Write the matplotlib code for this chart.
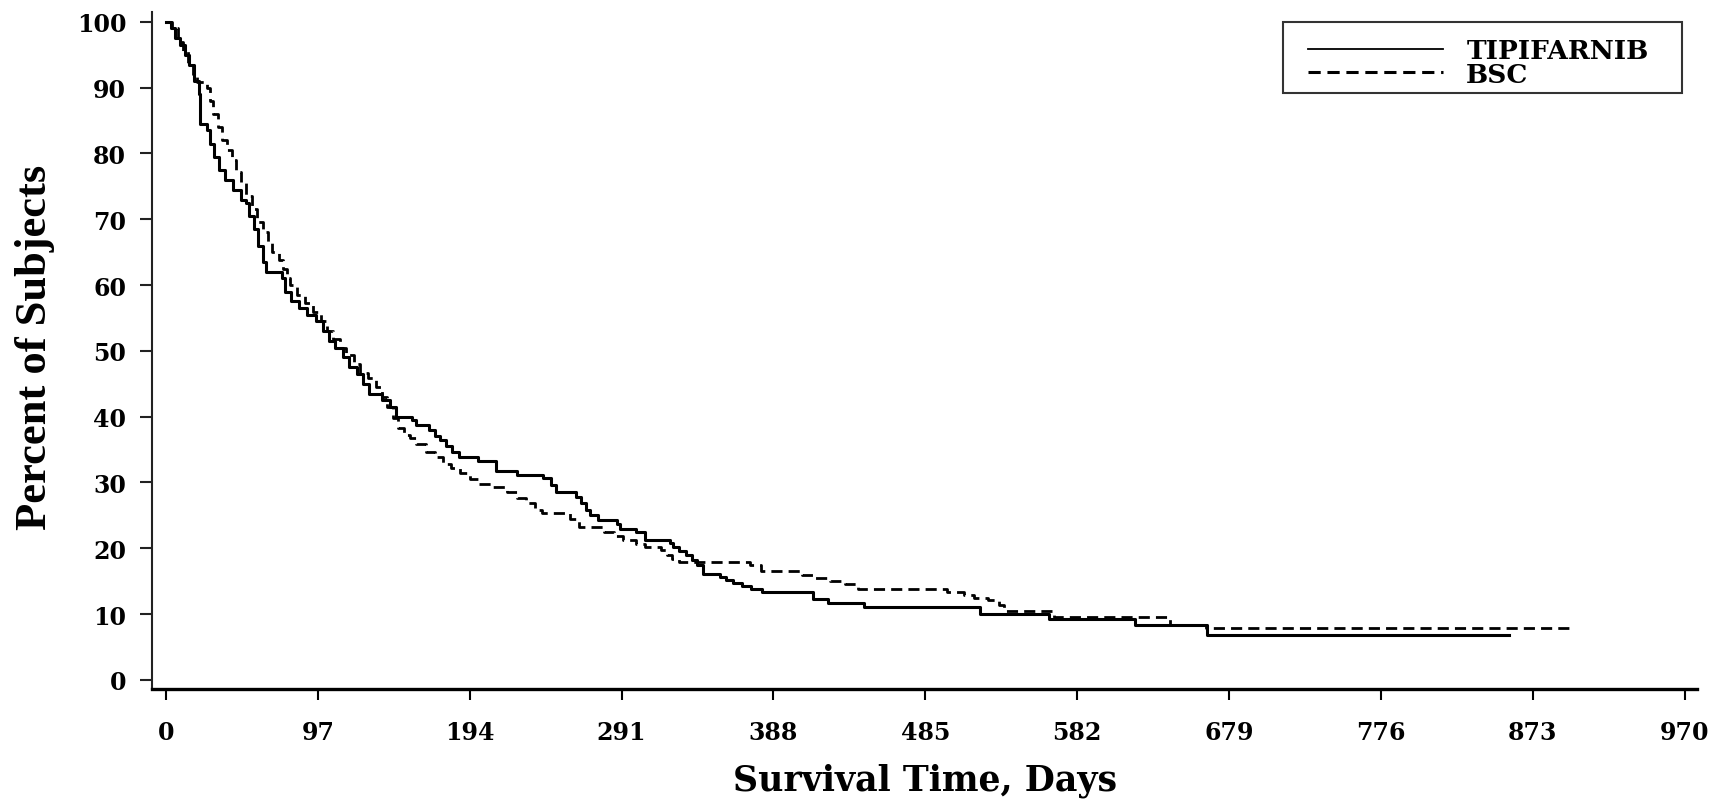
import matplotlib
matplotlib.use('Agg')
import matplotlib.pyplot as plt
from matplotlib.lines import Line2D
from matplotlib.patches import Rectangle

# Kaplan-Meier steps: (day, percent of subjects)
tip_days = [0, 3, 6, 9, 12, 15, 18, 21, 22, 26, 28, 31, 34, 38, 43, 48, 51, 53, 56, 59,
            62, 64, 74, 76, 80, 85, 90, 96, 100, 104, 108, 113, 117, 122, 126, 130, 138,
            143, 147, 157, 160, 168, 172, 175, 179, 183, 187, 199, 211, 224, 241, 246,
            249, 262, 265, 268, 271, 276, 288, 290, 300, 306, 322, 324, 328, 332, 336,
            339, 343, 354, 358, 362, 368, 374, 381, 413, 423, 446, 520, 564, 619, 665, 858]
tip_pct = [100, 99, 97.5, 96.5, 95, 93.5, 91, 89, 84.5, 83.5, 81.5, 79.5, 77.5, 76, 74.5,
           73, 72.5, 70.5, 68.5, 66, 63.5, 62, 61, 59, 57.5, 56.5, 55.5, 54.5, 53, 51.5,
           50.5, 49, 47.5, 46.5, 45, 43.5, 42.5, 41.5, 40, 39.5, 38.8, 38, 37, 36.4, 35.5,
           34.6, 33.8, 33.3, 31.8, 31.1, 30.6, 29.6, 28.6, 27.8, 26.8, 25.8, 25, 24.3,
           23.7, 22.9, 22.4, 21.2, 20.8, 20.2, 19.6, 18.9, 18.2, 17.4, 16.1, 15.7, 15.2,
           14.7, 14.2, 13.8, 13.3, 12.3, 11.6, 11.05, 10.0, 9.3, 8.3, 6.75, 6.75]

bsc_days = [0, 4, 8, 11, 14, 17, 20, 26, 28, 30, 33, 36, 39, 42, 45, 48, 51, 55, 58, 62,
            65, 68, 72, 75, 77, 79, 84, 89, 94, 99, 103, 107, 111, 115, 120, 124, 129, 134,
            138, 141, 145, 148, 152, 156, 160, 166, 172, 177, 182, 188, 194, 200, 208, 218,
            224, 230, 236, 240, 258, 264, 280, 286, 292, 300, 306, 316, 320, 323, 328, 373,
            380, 406, 413, 424, 434, 442, 499, 510, 516, 525, 532, 535, 567, 641, 664, 900]
bsc_pct = [100, 99, 97, 95.5, 93.5, 92, 90.8, 90, 88, 86, 84, 82, 80.5, 79, 77.2, 75.5,
           73.5, 71.5, 69.6, 68, 66.5, 65, 63.8, 62.5, 61, 60, 58.5, 57.2, 55.9, 54.5, 53,
           51.8, 50.5, 49.3, 48, 46.7, 45.8, 44.5, 43, 41.5, 39.8, 38.2, 37.2, 36.8, 35.8,
           34.6, 33.8, 32.8, 32.2, 31.4, 30.5, 29.7, 29.3, 28.6, 27.7, 26.8, 25.8, 25.3,
           24.5, 23.2, 22.5, 21.9, 21.2, 20.6, 20.2, 19.8, 19.0, 18.4, 17.9, 17.4, 16.6,
           16.0, 15.5, 15.0, 14.6, 13.8, 13.3, 12.9, 12.5, 12.1, 11.3, 10.4, 9.5, 8.3, 7.9, 7.9]

xticks = [0, 97, 194, 291, 388, 485, 582, 679, 776, 873, 970]
yticks = [0, 10, 20, 30, 40, 50, 60, 70, 80, 90, 100]

plt.rcParams['font.family'] = 'DejaVu Serif'
plt.rcParams['font.weight'] = 'bold'

fig = plt.figure(figsize=(17.12, 8.03), dpi=100)
ax = fig.add_axes([0.0888, 0.1407, 0.9025, 0.8431])

dash = (0, (4, 2.2))
ax.plot(tip_days, tip_pct, drawstyle='steps-post', color='black', lw=2.2)
ax.plot(bsc_days, bsc_pct, drawstyle='steps-post', color='black', lw=2.0, linestyle=dash)

ax.set_xlim(-8.9, 978)
ax.set_ylim(-1.4, 101.5)
ax.set_xticks(xticks)
ax.set_yticks(yticks)

for side in ['top', 'right']:
    ax.spines[side].set_visible(False)
ax.spines['left'].set_linewidth(1.5)
ax.spines['left'].set_color('#222222')
ax.spines['bottom'].set_linewidth(2.4)

ax.tick_params(axis='y', length=8.6, width=1.5, pad=10, labelsize=17, color='#222222')
ax.tick_params(axis='x', length=8, width=1.5, pad=14, labelsize=17)

ax.set_xlabel('Survival Time, Days', fontsize=25, fontweight='bold')
ax.xaxis.set_label_coords(0.5, -0.108)
ax.set_ylabel('Percent of Subjects', fontsize=32, fontweight='bold', family='Liberation Serif')
ax.yaxis.set_label_coords(-0.0625, 0.506)

# legend: thin solid sample, heavier dashed sample, box drawn separately
handles = [Line2D([], [], color='black', lw=1.3),
           Line2D([], [], color='black', lw=2.2, linestyle=dash)]
ax.legend(handles, ['TIPIFARNIB', 'BSC'], loc='upper left', bbox_to_anchor=(0.764, 0.9514),
          bbox_transform=fig.transFigure, frameon=False, fontsize=19, handlelength=5.1,
          handletextpad=0.9, borderpad=0, borderaxespad=0, labelspacing=-0.05)
fig.patches.append(Rectangle((0.7494, 0.8829), 0.2331, 0.0884, transform=fig.transFigure,
                             fill=False, edgecolor='#333333', lw=1.5))

fig.savefig('out.png', dpi=100)
